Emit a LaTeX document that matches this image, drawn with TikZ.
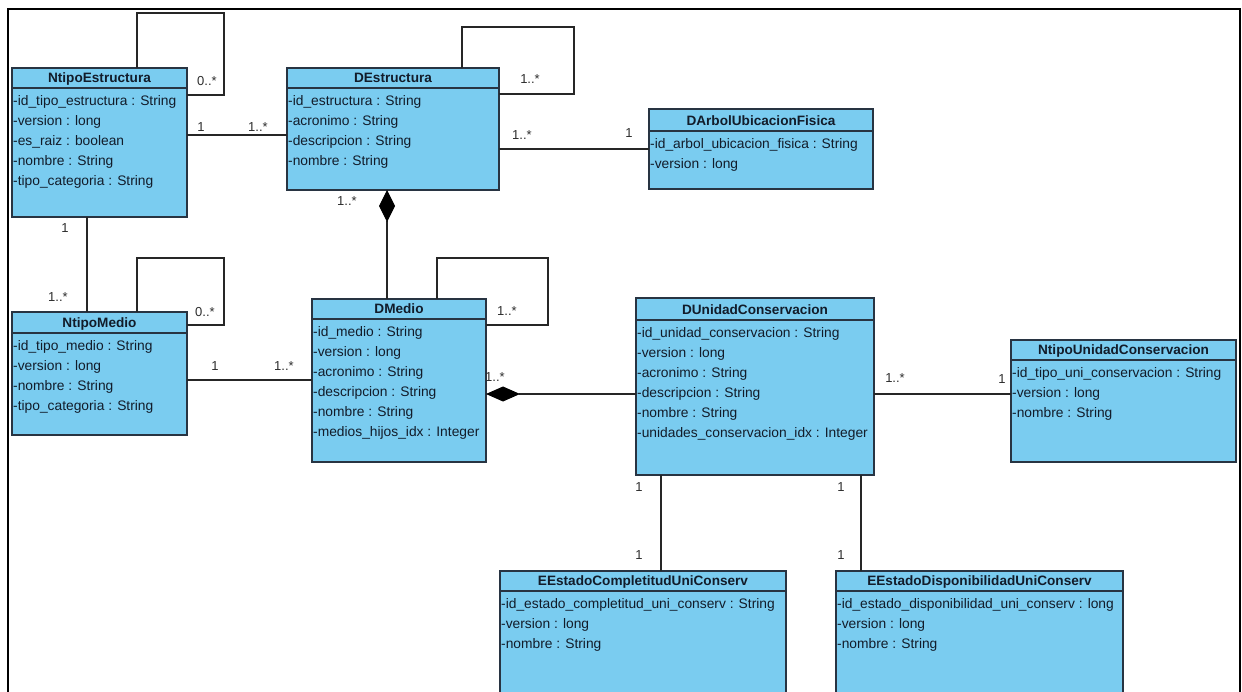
\documentclass[tikz,border=0pt]{standalone}
\usepackage{fontspec}
\setmainfont{Liberation Sans}
\usetikzlibrary{arrows.meta}

\definecolor{classfill}{RGB}{122,204,240}
\definecolor{classedge}{RGB}{40,52,66}
\definecolor{inktext}{RGB}{18,28,42}
\definecolor{multtext}{RGB}{45,45,45}

\tikzset{
  classbox/.style={draw=classedge, fill=classfill, line width=1.3pt, inner sep=0pt, outer sep=0pt},
  classrule/.style={draw=classedge, line width=1.1pt},
  classtitle/.style={anchor=base, inner sep=0pt, text=inktext, font=\fontsize{13.6}{16}\selectfont\bfseries},
  classattr/.style={anchor=base west, inner sep=0pt, text=inktext, font=\fontsize{13.8}{16}\selectfont},
  assoc/.style={draw=black!85, line width=1.1pt},
  mult/.style={inner sep=0pt, text=multtext, font=\fontsize{13}{15}\selectfont},
}

% name, x1, y1, x2, y2, header bottom, title, attributes
\newcommand{\umlclass}[8]{%
  \node[classbox, minimum width={(#4-#2)*1pt}, minimum height={(#5-#3)*1pt}]
    (#1) at ({(#2+#4)/2},{(#3+#5)/2}) {};
  \draw[classrule] (#2,#6) -- (#4,#6);
  \node[classtitle] (#1-title) at ({(#2+#4)/2},{#6-5.5}) {#7};
  \foreach \attr [count=\i] in {#8}
    \node[classattr] (#1-a\i) at ({#2+1},{#6+17.5+(\i-1)*20}) {\attr};
}

\begin{document}
\begin{tikzpicture}[x=1pt, y=-1pt]
\useasboundingbox (0,0) rectangle (1242,692);
\clip (0,0) rectangle (1242,692);

% outer frame
\draw[line width=2.4pt] (8,700) -- (8,9) -- (1240,9) -- (1240,700);

% classes
\umlclass{ntE}{12}{68}{187}{217}{88}{NtipoEstructura}
  {-id\_tipo\_estructura : String, -version : long, -es\_raiz : boolean, -nombre : String, -tipo\_categoria : String}
\umlclass{dE}{287}{68}{499}{190}{88}{DEstructura}
  {-id\_estructura : String, -acronimo : String, -descripcion : String, -nombre : String}
\umlclass{dA}{649}{109}{873}{189}{131}{DArbolUbicacionFisica}
  {-id\_arbol\_ubicacion\_fisica : String, -version : long}
\umlclass{ntM}{12}{312}{187}{435}{333}{NtipoMedio}
  {-id\_tipo\_medio : String, -version : long, -nombre : String, -tipo\_categoria : String}
\umlclass{dM}{312}{299}{486}{462}{319}{DMedio}
  {-id\_medio : String, -version : long, -acronimo : String, -descripcion : String, -nombre : String, -medios\_hijos\_idx : Integer}
\umlclass{dU}{636}{298}{874}{475}{320}{DUnidadConservacion}
  {-id\_unidad\_conservacion : String, -version : long, -acronimo : String, -descripcion : String, -nombre : String, -unidades\_conservacion\_idx : Integer}
\umlclass{ntU}{1011}{340}{1236}{462}{360}{NtipoUnidadConservacion}
  {-id\_tipo\_uni\_conservacion : String, -version : long, -nombre : String}
\umlclass{eC}{500}{571}{786}{720}{591}{EEstadoCompletitudUniConserv}
  {-id\_estado\_completitud\_uni\_conserv : String, -version : long, -nombre : String}
\umlclass{eD}{836}{571}{1123}{720}{591}{EEstadoDisponibilidadUniConserv}
  {-id\_estado\_disponibilidad\_uni\_conserv : long, -version : long, -nombre : String}

% self associations
\draw[assoc] (ntE.north -| 137,0) |- (224,13) |- (ntE.east |- 0,95);
\draw[assoc] (dE.north -| 462,0) |- (574,27) |- (dE.east |- 0,94);
\draw[assoc] (ntM.north -| 137,0) |- (224,258) |- (ntM.east |- 0,325);
\draw[assoc] (dM.north -| 437,0) |- (548,258) |- (dM.east |- 0,325);

% associations
\draw[assoc] (ntE.east |- 0,135) -- (dE.west |- 0,135);
\draw[assoc] (dE.east |- 0,149) -- (dA.west |- 0,149);
\draw[assoc] (ntE.south -| 87,0) -- (ntM.north -| 87,0);
\draw[assoc] (ntM.east |- 0,380) -- (dM.west |- 0,380);
\draw[assoc] (dU.east |- 0,394) -- (ntU.west |- 0,394);
\draw[assoc] (dU.south -| 661,0) -- (eC.north -| 661,0);
\draw[assoc] (dU.south -| 861,0) -- (eD.north -| 861,0);

% compositions (filled diamond at the whole)
\draw[assoc, -{Diamond[length=32pt, width=16pt, color=black]}] (dM.north -| 387,0) -- (dE.south -| 387,0);
\draw[assoc, -{Diamond[length=34pt, width=15pt, color=black]}] (dU.west |- 0,394) -- (dM.east |- 0,394);

% multiplicities
\node[mult] (m1) at (207,81) {0..*};
\node[mult] (m2) at (201,127) {1};
\node[mult] (m3) at (258,127) {1..*};
\node[mult] (m4) at (530,79) {1..*};
\node[mult] (m5) at (522,135) {1..*};
\node[mult] (m6) at (629,133) {1};
\node[mult] (m7) at (347,201) {1..*};
\node[mult] (m8) at (65,228) {1};
\node[mult] (m9) at (58,297) {1..*};
\node[mult] (m10) at (205,312) {0..*};
\node[mult] (m11) at (215,366) {1};
\node[mult] (m12) at (284,366) {1..*};
\node[mult] (m13) at (507,311) {1..*};
\node[mult] (m14) at (495,377) {1..*};
\node[mult] (m15) at (895,378) {1..*};
\node[mult] (m16) at (1002,379) {1};
\node[mult] (m17) at (639,487) {1};
\node[mult] (m18) at (639,555) {1};
\node[mult] (m19) at (841,487) {1};
\node[mult] (m20) at (841,555) {1};
\end{tikzpicture}
\end{document}
